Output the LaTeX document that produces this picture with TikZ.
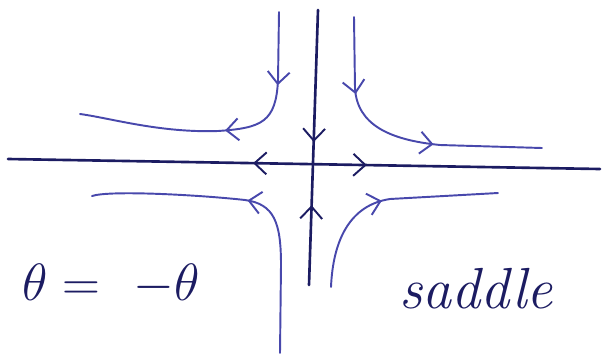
\documentclass[tikz,border=0pt]{standalone}
\usepackage{amsmath,amssymb}
\usepackage{tikz}
\usetikzlibrary{arrows.meta,positioning,calc,decorations.markings}
\definecolor{tinta}{RGB}{28,28,98}
\definecolor{toll}{RGB}{72,72,172}
\tikzset{
  chev/.tip={Straight Barb[length=2.4mm,width=4.4mm,line width=1.1pt]},
  tengely/.style={draw=tinta,line width=1.5pt,line cap=round},
  palya/.style={draw=toll,line width=1.1pt,line cap=round},
  elore/.style={postaction={decorate,decoration={markings,
    mark=at position #1 with {\arrow{chev}}}}},
  hatra/.style={postaction={decorate,decoration={markings,
    mark=at position #1 with {\arrowreversed{chev}}}}},
}
\begin{document}
\begin{tikzpicture}[x=0.02cm,y=-0.02cm]
  \useasboundingbox (0,0) rectangle (605,356);
  % tengelyek
  \coordinate (bal) at (8,159); \coordinate (jobb) at (600,169);
  \coordinate (fent) at (318,10); \coordinate (lent) at (309,285);
  \draw[tengely,hatra=0.414,elore=0.606] (bal) -- (jobb);
  \draw[tengely,elore=0.48,hatra=0.71] (fent) -- (lent);
  % palyak
  \draw[palya,elore=0.245,elore=0.51] (279,12) -- (278,80)
    .. controls (276,122) and (262,128) .. (218,131)
    .. controls (160,133) and (110,118) .. (80,114);
  \draw[palya,elore=0.27,elore=0.62] (354,17) -- (355,88)
    .. controls (357,125) and (390,140) .. (440,145) -- (542,148);
  \draw[palya,elore=0.52] (280,353) -- (281,265)
    .. controls (281,222) and (274,204) .. (245,200)
    .. controls (200,195) and (110,190) .. (92,196);
  \draw[palya,elore=0.48] (331,287)
    .. controls (333,240) and (350,205) .. (390,199) -- (498,193);
  % feliratok
  \node[text=tinta,anchor=west,font=\fontsize{30}{36}\selectfont] (egyenlet)
    at (16,284) {\scalebox{1.2}{$\theta = \ -\theta$}};
  \node[text=tinta,font=\fontsize{33}{40}\selectfont\itshape] (felirat)
    at (476,289) {saddle};
\end{tikzpicture}
\end{document}
